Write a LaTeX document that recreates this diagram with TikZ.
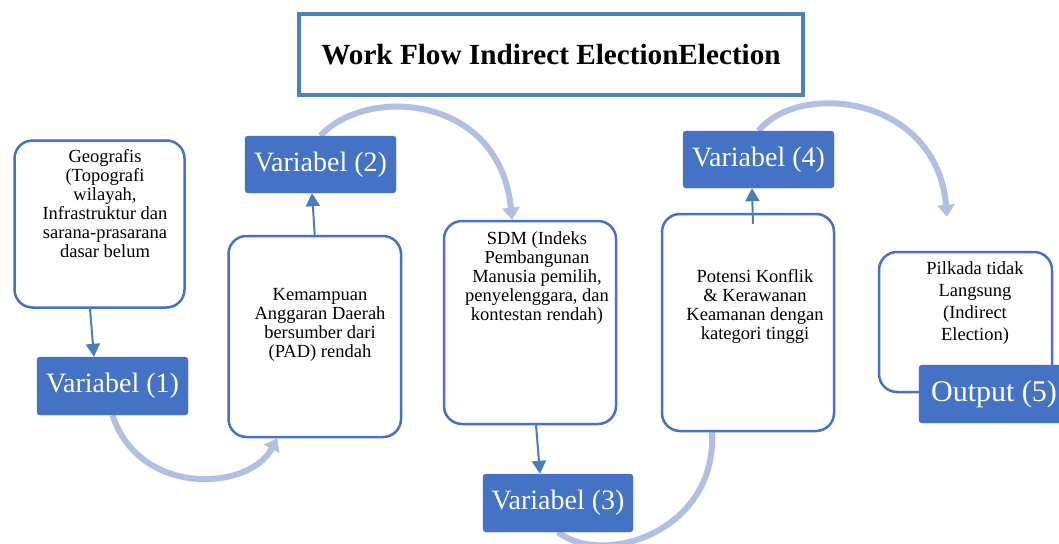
\documentclass[tikz,border=0pt]{standalone}
\usepackage{fontspec}
\setmainfont{Liberation Serif}
\usetikzlibrary{arrows.meta,backgrounds}
\definecolor{boxblue}{HTML}{4472C4}
\definecolor{titleblue}{HTML}{4F81BD}
\definecolor{arrowblue}{HTML}{4A7EBB}
\definecolor{arclight}{HTML}{B1BFE3}
\tikzset{
  rbox/.style={draw=boxblue, line width=2.5pt, fill=white, rounded corners=18pt, inner sep=0pt},
  varbox/.style={fill=boxblue, draw=boxblue, rounded corners=3pt, inner sep=0pt, text=white,
    font=\fontsize{28}{30}\selectfont},
  boxtext/.style={align=center, inner sep=0pt, anchor=north, font=\fontsize{18.5}{19}\selectfont},
  darrow/.style={draw=arrowblue, line width=2pt, -{Triangle[width=14pt,length=13pt]}},
  larc/.style={draw=arclight, line width=6pt},
  larcarrow/.style={larc, -{Triangle[width=17pt,length=12pt]}},
}
\begin{document}
\begin{tikzpicture}[x=1pt,y=-1pt]
\useasboundingbox (0,0) rectangle (1059,543);
\clip (0,0) rectangle (1059,543);

% title
\node[draw=titleblue, line width=4pt, minimum width=504pt, minimum height=81pt, inner sep=0pt,
  font=\fontsize{29.2}{31}\selectfont\bfseries] (title) at (551,54.5) {Work Flow Indirect ElectionElection};

% text boxes
\node[rbox, minimum width=170pt, minimum height=167pt] (geo) at (99.5,224) {};
\node[rbox, minimum width=172.5pt, minimum height=201pt] (kem) at (314.75,336.5) {};
\node[rbox, minimum width=172pt, minimum height=203pt] (sdm) at (530,322.5) {};
\node[rbox, minimum width=172pt, minimum height=217pt] (pot) at (748,322.5) {};
\node[rbox, minimum width=173pt, minimum height=140pt] (pil) at (965.5,322) {};

% variable boxes
\node[varbox, minimum width=151pt, minimum height=58pt] (v1) at (112.5,386) {Variabel (1)};
\node[varbox, minimum width=151pt, minimum height=57pt] (v2) at (320.5,164.5) {Variabel (2)};
\node[varbox, minimum width=150pt, minimum height=58pt] (v3) at (558,503) {Variabel (3)};
\node[varbox, minimum width=151pt, minimum height=57pt] (v4) at (758.5,159.5) {Variabel (4)};

% texts
\begin{scope}
\clip (geo.north west) rectangle ([yshift=42pt]geo.south east);
\node[boxtext] (geotxt) at (105,149.5) {Geografis\\(Topografi\\wilayah,\\Infrastruktur dan\\sarana-prasarana\\dasar belum};
\end{scope}
\node[boxtext] (kemtxt) at (320,288.5) {Kemampuan\\Anggaran Daerah\\bersumber dari\\(PAD) rendah};
\node[boxtext] (sdmtxt) at (537,231.5) {SDM (Indeks\\Pembangunan\\Manusia pemilih,\\penyelenggara, dan\\kontestan rendah)};
\node[boxtext] (pottxt) at (755,269.5) {Potensi Konflik\\\& Kerawanan\\Keamanan dengan\\kategori tinggi};
\node[boxtext, font=\fontsize{18.5}{22}\selectfont] (piltxt) at (975,261.5) {Pilkada tidak\\Langsung\\(Indirect\\Election)};

\node[varbox, minimum width=150pt, minimum height=58pt, font=\fontsize{30}{32}\selectfont] (out) at (994,394) {Output (5)};

\coordinate (a4end) at ([xshift=-18.5pt,yshift=34pt]pil.north);

% light curved arrows behind the boxes
\begin{scope}[on background layer]
\fill[white] (0,0) rectangle (1059,543);
\draw[larcarrow] (v1.south) .. controls +(27,82) and +(-28,53) .. ([xshift=50pt]kem.south west);
\draw[larcarrow] (v2.north) .. controls +(45,-50) and +(-12,-126) .. ([xshift=-18pt]sdm.north);
\draw[larc] (v3.south) .. controls +(45,35) and +(5,100) .. ([xshift=-36pt]pot.south);
\draw[larcarrow] (v4.north) .. controls +(42,-51) and +(-10,-120) .. (a4end);
\end{scope}

% dark arrows
\draw[darrow] ([xshift=-9.5pt]geo.south) -- ([xshift=-18.5pt]v1.north);
\draw[darrow] (kem.north) -- ([xshift=-8.5pt]v2.south);
\draw[darrow] ([xshift=6pt]sdm.south) -- ([xshift=-18pt]v3.north);
\draw[darrow] ([xshift=5pt,yshift=-11pt]pot.north) -- ([xshift=-6.5pt]v4.south);
\end{tikzpicture}
\end{document}
